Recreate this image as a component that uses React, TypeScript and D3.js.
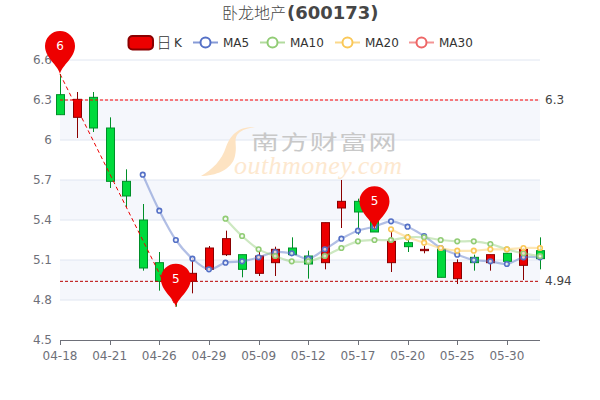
import React from 'react';
import * as d3 from 'd3';

const dates = ['04-18','04-19','04-20','04-21','04-22','04-23','04-26','04-27','04-28','04-29','04-30','05-06','05-09','05-10','05-11','05-12','05-13','05-16','05-17','05-18','05-19','05-20','05-23','05-24','05-25','05-26','05-27','05-30','05-31','06-01'];
const opens = [6.34,6.17,6.32,6.09,5.69,5.40,5.08,5.02,4.94,5.03,5.14,5.14,5.00,5.08,5.19,5.13,5.08,5.49,5.54,5.39,5.08,5.23,5.17,5.18,4.96,5.12,5.08,5.15,5.06,5.17];
const closes = [6.19,6.305,6.09,5.69,5.58,5.04,4.94,4.95,5.00,5.19,5.26,5.03,5.13,5.18,5.14,5.07,5.38,5.54,5.46,5.31,5.24,5.20,5.18,4.97,5.08,5.08,5.14,5.09,5.18,5.11];
const lows = [6.19,6.015,6.06,5.64,5.495,5.02,4.87,4.75,4.85,5.03,5.13,4.97,4.98,4.98,5.14,4.96,5.03,5.34,5.29,5.31,5.01,5.16,5.15,4.97,4.92,5.02,5.02,5.05,4.95,5.03];
const highs = [6.495,6.36,6.36,6.17,5.78,5.52,5.16,5.06,5.115,5.205,5.32,5.14,5.16,5.20,5.27,5.17,5.38,5.70,5.56,5.42,5.31,5.295,5.205,5.19,5.105,5.14,5.14,5.15,5.19,5.27];
const ma5 = [null,null,null,null,null,5.74,5.47,5.25,5.11,5.03,5.08,5.09,5.12,5.16,5.15,5.11,5.18,5.26,5.32,5.35,5.39,5.35,5.28,5.19,5.14,5.10,5.09,5.07,5.12,5.12];
const ma10 = [null,null,null,null,null,null,null,null,null,null,5.41,5.28,5.18,5.13,5.09,5.09,5.13,5.19,5.24,5.25,5.25,5.27,5.27,5.25,5.24,5.24,5.22,5.18,5.15,5.13];
const ma20 = [null,null,null,null,null,null,null,null,null,null,null,null,null,null,null,null,null,null,null,null,5.33,5.27,5.23,5.19,5.17,5.17,5.18,5.18,5.19,5.19];
const yTicks = [6.6,6.3,6.0,5.7,5.4,5.1,4.8,4.5];
const xTickIdx = [0,3,6,9,12,15,18,21,24,27];
const shadedBands = [[6.3,6.0],[5.7,5.4],[5.1,4.8]];
const maxClose = 6.3;
const minClose = 4.94;
const pins = [
  { i: 0, v: 6.495, label: '6' },
  { i: 7, v: 4.75, label: '5' },
  { i: 19, v: 5.33, label: '5' },
];
const maSeries = [
  { name: 'MA5', values: ma5, color: '#5470c6', legendX: 193 },
  { name: 'MA10', values: ma10, color: '#91cc75', legendX: 260 },
  { name: 'MA20', values: ma20, color: '#fac858', legendX: 335 },
  { name: 'MA30', values: [] as (number | null)[], color: '#ee6666', legendX: 409 },
];

const FONT = '"DejaVu Sans", sans-serif';
const CJK = '"Noto Sans CJK SC", sans-serif';
const UP = '#ec0000', UP_B = '#8a0000', DOWN = '#00da3c', DOWN_B = '#008f28';

const x = d3.scaleLinear().domain([0, dates.length - 1]).range([60, 540]);
const y = d3.scaleLinear().domain([4.5, 6.6]).range([340, 60]);
const PIN = 'M0,0 C-2,-9 -15,-16 -15,-28 A15,15 0 1 1 15,-28 C15,-16 2,-9 0,0 Z';

export default function App() {
  const line = d3.line<number | null>()
    .defined(d => d !== null)
    .x((_, i) => x(i))
    .y(d => y(d as number))
    .curve(d3.curveCatmullRom.alpha(0.5));
  return (
    <svg width={600} height={400} style={{ position: 'absolute', left: 0, top: 0, background: '#fff' }} fontFamily={FONT}>
      {shadedBands.map((b, i) => (
        <rect key={i} x={60} width={480} y={y(b[0])} height={y(b[1]) - y(b[0])} fill="#f5f7fc" />
      ))}
      {yTicks.slice(0, -1).map(t => (
        <line key={t} x1={60} x2={540} y1={y(t)} y2={y(t)} stroke="#e0e6f1" />
      ))}
      {/* watermark */}
      <g>
        <path d="M255,127 C240,127 232,132 226,147 C222,160 212,170 201,176 C215,176 232,170 235,156 C238,145 232,138 240,132 C244,129 250,128 255,127Z" fill="#fde3c2" />
        <text transform="translate(251,150) scale(1.4,1)" fontFamily={CJK} fontSize={20} fontWeight={400} fill="#c8c8c8" letterSpacing={1}>南方财富网</text>
        <text x={234} y={174} fontFamily='"Liberation Serif", serif' fontStyle="italic" fontSize={26} fill="#fde8cf" textLength={168}>outhmoney.com</text>
      </g>
      {/* candles */}
      <g>
        {dates.map((d, i) => {
          const up = closes[i] >= opens[i];
          const fill = up ? UP : DOWN;
          const border = up ? UP_B : DOWN_B;
          const top = y(Math.max(opens[i], closes[i]));
          const bot = y(Math.min(opens[i], closes[i]));
          const cx = Math.round(x(i)) + 0.5;
          return (
            <g key={d}>
              <line x1={cx} x2={cx} y1={y(highs[i])} y2={y(lows[i])} stroke={border} />
              <rect x={cx - 4} width={8} y={top} height={Math.max(bot - top, 1)} fill={fill} stroke={border} />
            </g>
          );
        })}
      </g>
      {/* MA lines */}
      {maSeries.map(s => (
        <g key={s.name}>
          <path d={line(s.values) ?? ''} fill="none" stroke={s.color} strokeWidth={2.2} strokeOpacity={0.45} />
          {s.values.map((v, i) => v === null ? null : (
            <circle key={i} cx={x(i)} cy={y(v)} r={2.3} fill="#fff" fillOpacity={0.75} stroke={s.color} strokeWidth={1.6} />
          ))}
        </g>
      ))}
      {/* mark lines */}
      <line x1={60} x2={540} y1={y(maxClose)} y2={y(maxClose)} stroke="#ff0000" strokeDasharray="3 2" />
      <line x1={60} x2={540} y1={y(minClose)} y2={y(minClose)} stroke="#b80000" strokeDasharray="3 2" />
      <line x1={x(pins[0].i)} y1={y(pins[0].v)} x2={x(pins[1].i)} y2={y(pins[1].v)} stroke="#ec0000" strokeDasharray="4 3" />
      <text x={545} y={y(maxClose) + 4} fontSize={12} fill="#444">6.3</text>
      <text x={545} y={y(minClose) + 4} fontSize={12} fill="#444">4.94</text>
      {/* axes */}
      <line x1={60} x2={540} y1={340.5} y2={340.5} stroke="#6e7079" />
      {xTickIdx.map(i => (
        <g key={i}>
          <line x1={Math.round(x(i)) + 0.5} x2={Math.round(x(i)) + 0.5} y1={340} y2={345} stroke="#6e7079" />
          <text x={x(i)} y={360} textAnchor="middle" fontSize={12} fill="#6e7079">{dates[i]}</text>
        </g>
      ))}
      {yTicks.map(t => (
        <text key={t} x={52} y={y(t) + 4} textAnchor="end" fontSize={12} fill="#6e7079">{t === 6 ? '6' : t.toFixed(1)}</text>
      ))}
      {/* pins */}
      {pins.map((p, i) => (
        <g key={i} transform={`translate(${x(p.i)},${y(p.v)})`}>
          <path d={PIN} fill="#ee0000" />
          <text y={-24} textAnchor="middle" fontSize={12} fill="#fff">{p.label}</text>
        </g>
      ))}
      {/* title */}
      <text x={222} y={19} fontFamily={CJK} fontSize={16} fontWeight={300} fill="#464646">卧龙地产</text>
      <text x={287} y={19} fontSize={18} fontWeight={700} fill="#464646">(600173)</text>
      {/* legend */}
      <rect x={128.5} y={36} width={24.5} height={13.5} rx={4} fill={UP} stroke={UP_B} strokeWidth={2} />
      <text x={156.5} y={47.5} fontFamily={CJK} fontSize={15} fontWeight={300} fill="#333">日</text>
      <text x={174} y={47} fontSize={12} fill="#333">K</text>
      {maSeries.map(s => (
        <g key={s.name}>
          <line x1={s.legendX} x2={s.legendX + 25} y1={42.5} y2={42.5} stroke={s.color} strokeWidth={2} strokeOpacity={0.7} />
          <circle cx={s.legendX + 12.5} cy={42.5} r={5} fill="#fff" stroke={s.color} strokeWidth={2} />
          <text x={s.legendX + 30} y={47} fontSize={12} fill="#333">{s.name}</text>
        </g>
      ))}
    </svg>
  );
}
